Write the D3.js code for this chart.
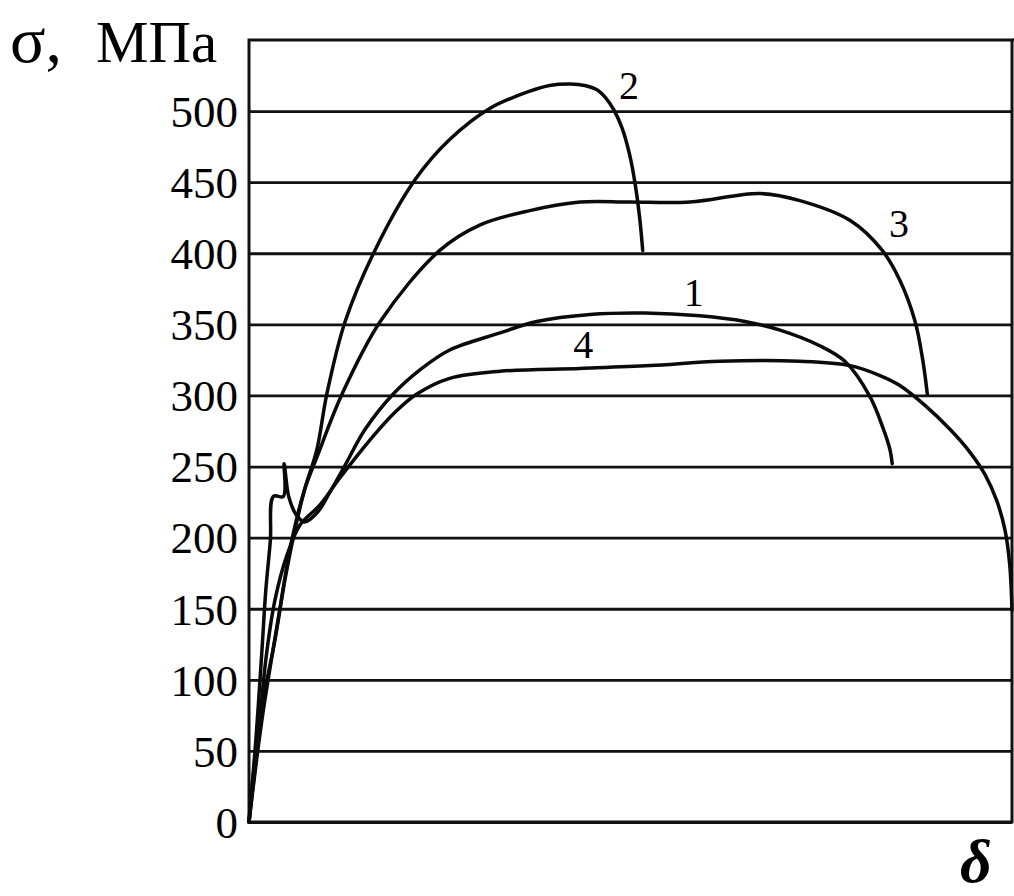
<!DOCTYPE html>
<html>
<head>
<meta charset="utf-8">
<script src="https://cdn.jsdelivr.net/npm/d3@7"></script>
<style>
  html, body { margin: 0; padding: 0; background: #ffffff; }
  svg { display: block; }
</style>
</head>
<body>
<svg id="chart" width="1014" height="896"></svg>
<script>
// ---- data ----
const yTicks = [0, 50, 100, 150, 200, 250, 300, 350, 400, 450, 500];
const yMax = 550;
const xMax = 100;

const curve1X = [0, 0.9, 1.7, 2.2, 2.8, 3.2, 4.5, 4.6, 5.2, 6.2, 7.3, 9.0, 10.6, 12.6, 15.2, 18.9, 22.4, 26.3, 32.9, 37.7, 44.7, 51.9, 59.1, 65.0, 69.6, 74.8, 78.1, 81.4, 83.1, 84.0, 84.3];
const curve1Y = [0, 58, 121, 163, 198, 229, 229, 252, 229, 216, 211, 218, 232, 251, 276, 301, 318, 332, 344, 352, 357, 358, 356, 352, 346, 335, 324, 299, 277, 262, 252];

const curve2X = [0, 1.4, 3.4, 4.7, 6.0, 7.3, 8.9, 10.2, 12.6, 16.5, 21.8, 26.3, 31.6, 36.8, 39.4, 42.1, 44.0, 45.6, 46.8, 47.8, 48.9, 49.9, 50.6, 51.2, 51.6];
const curve2Y = [0, 72, 128, 170, 205, 234, 262, 301, 352, 402, 452, 480, 502, 514, 518, 519, 518, 515, 509, 501, 488, 469, 449, 425, 402];

const curve3X = [0, 1.7, 3.8, 5.6, 7.3, 9.0, 12.2, 17.2, 25.0, 30.3, 36.8, 43.4, 49.9, 57.8, 67.0, 72.2, 78.8, 83.0, 85.3, 87.3, 88.3, 88.9];
const curve3Y = [0, 72, 142, 198, 234, 258, 301, 352, 402, 420, 430, 436, 436, 436, 442, 437, 423, 402, 381, 352, 325, 301];

const curve4X = [0, 1.2, 2.2, 3.4, 5.0, 6.7, 9.3, 11.9, 15.9, 19.1, 22.0, 26.3, 32.9, 43.4, 52.6, 61.7, 72.2, 78.8, 82.7, 85.3, 88.6, 91.9, 94.5, 96.5, 98.0, 99.1, 99.7, 100];
const curve4Y = [0, 58, 114, 156, 188, 209, 223, 242, 269, 288, 301, 312, 317, 319, 321, 324, 324, 321, 314, 307, 293, 276, 260, 244, 226, 205, 181, 149];

const curveNames = ["1", "2", "3", "4"];
const labelX = [58.3, 49.8, 85.2, 43.8];
const labelY = [373, 518, 421, 336];

const yTitleSymbol = "σ,";
const yTitleUnit = "МПа";
const xTitle = "δ";

// ---- drawing ----
(function () {
const svg = d3.select("#chart");
const W = 1014, H = 896;
svg.append("rect").attr("width", W).attr("height", H).attr("fill", "#ffffff");

const pl = 249, pr = 1012, pt = 40, pb = 822;
const x = d3.scaleLinear().domain([0, xMax]).range([pl, pr]);
const y = d3.scaleLinear().domain([0, yMax]).range([pb, pt]);

const serif = "'Liberation Serif', 'Times New Roman', 'DejaVu Serif', serif";

// gridlines + tick labels
const axis = d3.axisLeft(y)
  .tickValues(yTicks)
  .tickSize(-(pr - pl))
  .tickPadding(11)
  .tickFormat(d3.format("d"));

const gAxis = svg.append("g")
  .attr("transform", `translate(${pl},0)`)
  .call(axis);
gAxis.select(".domain").remove();
gAxis.selectAll(".tick line")
  .attr("stroke", "#111")
  .attr("stroke-width", 2.8);
gAxis.selectAll(".tick text")
  .attr("fill", "#000")
  .style("font-family", serif)
  .style("font-size", "45px")
  .attr("dy", "0.34em");

// frame
svg.append("rect")
  .attr("x", x(0)).attr("y", y(yMax))
  .attr("width", x(xMax) - x(0))
  .attr("height", y(0) - y(yMax))
  .attr("fill", "none")
  .attr("stroke", "#111")
  .attr("stroke-width", 3);
svg.append("line")
  .attr("x1", x(xMax)).attr("x2", W)
  .attr("y1", y(yMax)).attr("y2", y(yMax))
  .attr("stroke", "#111").attr("stroke-width", 3);

// curves
const series = [
  { xs: curve1X, ys: curve1Y },
  { xs: curve2X, ys: curve2Y },
  { xs: curve3X, ys: curve3Y },
  { xs: curve4X, ys: curve4Y }
];
const line = d3.line()
  .x(d => x(d[0]))
  .y(d => y(d[1]))
  .curve(d3.curveCatmullRom.alpha(0.5));

series.forEach(s => {
  const pts = s.xs.map((v, i) => [v, s.ys[i]]);
  svg.append("path")
    .datum(pts)
    .attr("d", line)
    .attr("fill", "none")
    .attr("stroke", "#0a0a0a")
    .attr("stroke-width", 3.5)
    .attr("stroke-linejoin", "round")
    .attr("stroke-linecap", "round");
});

// curve labels
curveNames.forEach((n, i) => {
  svg.append("text")
    .attr("x", x(labelX[i]))
    .attr("y", y(labelY[i]))
    .attr("text-anchor", "middle")
    .attr("dy", "0.35em")
    .style("font-family", serif)
    .style("font-size", "40px")
    .attr("fill", "#000")
    .text(n);
});

// axis titles
const t = svg.append("text")
  .attr("x", 10)
  .attr("y", 62)
  .style("font-family", serif)
  .attr("fill", "#000");
t.append("tspan").style("font-size", "66px").text(yTitleSymbol);
t.append("tspan").attr("x", 96).style("font-size", "59px").text(yTitleUnit);

svg.append("text")
  .attr("x", 960)
  .attr("y", 882)
  .style("font-family", serif)
  .style("font-size", "62px")
  .style("font-weight", "bold")
  .style("font-style", "italic")
  .attr("fill", "#000")
  .text(xTitle);
})();
</script>
</body>
</html>
